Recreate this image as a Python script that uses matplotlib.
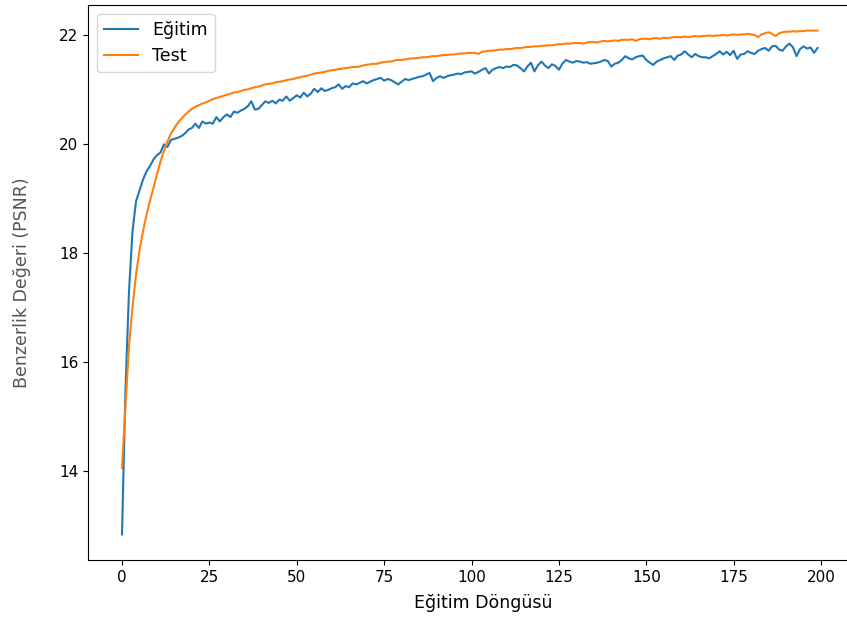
import matplotlib
matplotlib.use("Agg")
import matplotlib.pyplot as plt
import numpy as np

plt.rcParams['savefig.bbox'] = 'standard'

# PSNR per epoch
egitim = [
    12.83, 15.5, 17.3, 18.4, 18.95, 19.15, 19.35, 19.5, 19.6, 19.72,
    19.8, 19.85, 20.0, 19.95, 20.08, 20.1, 20.12, 20.15, 20.2, 20.27,
    20.3, 20.38, 20.3, 20.42, 20.38, 20.4, 20.38, 20.5, 20.42, 20.5,
    20.55, 20.5, 20.6, 20.58, 20.62, 20.65, 20.7, 20.79, 20.64, 20.65,
    20.72, 20.79, 20.76, 20.8, 20.75, 20.82, 20.8, 20.88, 20.8, 20.85,
    20.9, 20.86, 20.95, 20.88, 20.93, 21.02, 20.96, 21.03, 20.98, 21.0,
    21.03, 21.05, 21.1, 21.02, 21.07, 21.05, 21.12, 21.1, 21.13, 21.16,
    21.12, 21.15, 21.18, 21.2, 21.22, 21.17, 21.2, 21.18, 21.14, 21.1,
    21.15, 21.2, 21.18, 21.2, 21.22, 21.24, 21.25, 21.28, 21.31, 21.16,
    21.22, 21.25, 21.22, 21.25, 21.27, 21.28, 21.3, 21.29, 21.32, 21.33,
    21.34, 21.3, 21.33, 21.37, 21.4, 21.3, 21.37, 21.4, 21.42, 21.4,
    21.43, 21.42, 21.46, 21.45, 21.4, 21.34, 21.43, 21.5, 21.34, 21.45,
    21.52, 21.45, 21.4, 21.47, 21.44, 21.37, 21.48, 21.55, 21.52, 21.5,
    21.53, 21.52, 21.5, 21.51, 21.48, 21.49, 21.5, 21.52, 21.55, 21.53,
    21.43, 21.48, 21.5, 21.55, 21.62, 21.58, 21.56, 21.6, 21.62, 21.63,
    21.55, 21.5, 21.46, 21.52, 21.55, 21.58, 21.6, 21.62, 21.55, 21.63,
    21.65, 21.71, 21.65, 21.6, 21.66, 21.62, 21.6, 21.6, 21.58, 21.62,
    21.66, 21.71, 21.65, 21.7, 21.64, 21.72, 21.57, 21.65, 21.66, 21.71,
    21.68, 21.66, 21.72, 21.75, 21.77, 21.72, 21.8, 21.81, 21.74, 21.72,
    21.8, 21.85, 21.78, 21.62, 21.75, 21.8, 21.76, 21.78, 21.68, 21.77,
]

test = [
    14.05, 15.2, 16.3, 17.0, 17.6, 18.05, 18.4, 18.7, 18.96, 19.2,
    19.45, 19.68, 19.88, 20.05, 20.2, 20.3, 20.4, 20.47, 20.54, 20.6,
    20.65, 20.69, 20.72, 20.75, 20.77, 20.8, 20.83, 20.85, 20.87, 20.89,
    20.91, 20.93, 20.95, 20.96, 20.98, 21.0, 21.01, 21.03, 21.05, 21.06,
    21.08, 21.1, 21.11, 21.12, 21.14, 21.15, 21.16, 21.18, 21.19, 21.2,
    21.22, 21.23, 21.25, 21.26, 21.28, 21.3, 21.31, 21.32, 21.33, 21.35,
    21.36, 21.37, 21.38, 21.39, 21.4, 21.41, 21.42, 21.42, 21.43, 21.45,
    21.46, 21.47, 21.48, 21.48, 21.5, 21.51, 21.52, 21.52, 21.54, 21.55,
    21.55, 21.56, 21.57, 21.58, 21.58, 21.59, 21.6, 21.6, 21.61, 21.62,
    21.62, 21.63, 21.64, 21.64, 21.65, 21.65, 21.66, 21.67, 21.67, 21.68,
    21.68, 21.68, 21.66, 21.7, 21.71, 21.72, 21.72, 21.73, 21.74, 21.74,
    21.75, 21.75, 21.76, 21.77, 21.77, 21.78, 21.79, 21.79, 21.8, 21.8,
    21.81, 21.81, 21.82, 21.82, 21.83, 21.84, 21.84, 21.85, 21.85, 21.86,
    21.86, 21.86, 21.85, 21.87, 21.88, 21.88, 21.87, 21.89, 21.9, 21.89,
    21.9, 21.91, 21.9, 21.92, 21.92, 21.92, 21.93, 21.9, 21.93, 21.94,
    21.94, 21.93, 21.95, 21.95, 21.94, 21.96, 21.95, 21.96, 21.97, 21.97,
    21.97, 21.98, 21.97, 21.98, 21.99, 21.98, 21.99, 21.99, 22.0, 21.99,
    22.0, 22.0, 22.01, 22.0, 22.01, 22.02, 22.01, 22.02, 22.02, 22.03,
    22.02, 22.01, 21.97, 22.02, 22.04, 22.06, 22.03, 21.99, 22.04, 22.06,
    22.07, 22.07, 22.08, 22.07, 22.08, 22.08, 22.09, 22.09, 22.09, 22.09,
]

epochs = np.arange(len(egitim))

fig = plt.figure(figsize=(8.47, 6.22), dpi=100)
# the reference is cropped on the right: the axes run past the edge
ax = fig.add_axes([88 / 847, 62 / 622, 790 / 847, 555 / 622])
ax.spines['right'].set_visible(False)

ax.plot(epochs, egitim, label="Eğitim")
ax.plot(epochs, test, label="Test")

ax.set_xlim(-9.73, -9.73 + 790 / 3.495)
ax.set_ylim(12.36, 22.56)
ax.set_xticks([0, 25, 50, 75, 100, 125, 150, 175, 200])
ax.set_yticks([14, 16, 18, 20, 22])
ax.tick_params(labelsize=11)
ax.set_xlabel("Eğitim Döngüsü", fontsize=12.5, labelpad=7)
ax.set_ylabel("Benzerlik Değeri (PSNR)", color="#555555", fontsize=12.5, labelpad=20)
ax.legend(loc="upper left", fontsize=12.5)

fig.savefig("out.png", dpi=100)
